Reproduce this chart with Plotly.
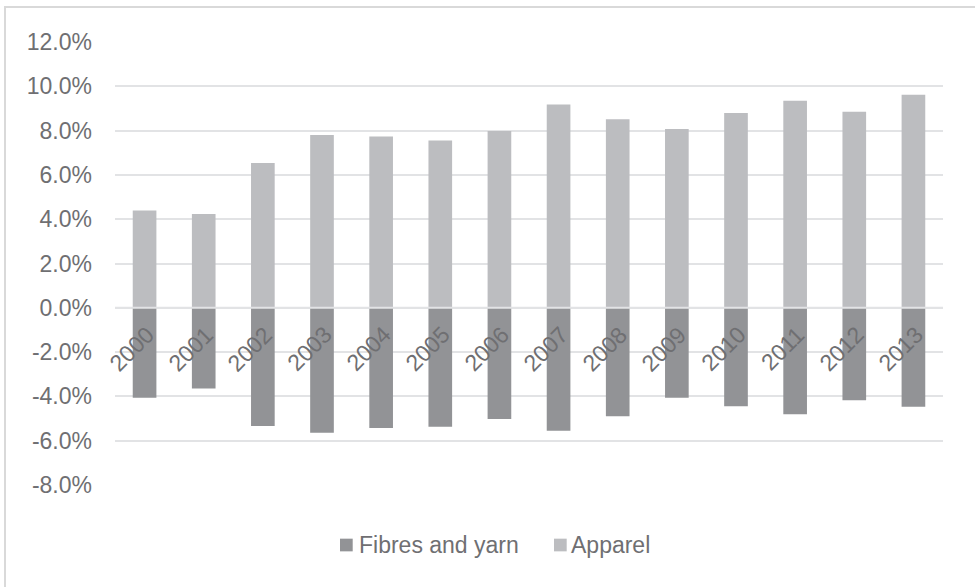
import plotly.graph_objects as go

years = [str(y) for y in range(2000, 2014)]
fibres_and_yarn = [-4.06, -3.64, -5.34, -5.64, -5.43, -5.37, -5.02, -5.55, -4.90, -4.06, -4.44, -4.81, -4.17, -4.47]
apparel = [4.39, 4.24, 6.54, 7.80, 7.73, 7.55, 7.98, 9.18, 8.51, 8.07, 8.80, 9.35, 8.85, 9.62]
y_tick_values = [-8, -6, -4, -2, 0, 2, 4, 6, 8, 10, 12]
y_tick_labels = ["-8.0%", "-6.0%", "-4.0%", "-2.0%", "0.0%", "2.0%", "4.0%", "6.0%", "8.0%", "10.0%", "12.0%"]
series_names = ["Fibres and yarn", "Apparel"]

FIBRE_COLOR = "#929396"
APPAREL_COLOR = "#bcbdc0"
TEXT_COLOR = "#6f6f72"
GRID_COLOR = "#e2e3e5"
FONT = "Liberation Sans, Arial, sans-serif"
FS = 23

fig = go.Figure()
fig.add_trace(go.Bar(x=years, y=fibres_and_yarn, name=series_names[0],
                     marker=dict(color=FIBRE_COLOR, line=dict(width=0))))
fig.add_trace(go.Bar(x=years, y=apparel, name=series_names[1],
                     marker=dict(color=APPAREL_COLOR, line=dict(width=0))))

# year labels placed on the zero line, rotated (x = category index)
for i, yr in enumerate(years):
    fig.add_annotation(x=i, y=0, xref="x", yref="y", text=yr, showarrow=False,
                       textangle=-45, xanchor="center", yanchor="middle",
                       xshift=-13, yshift=-41,
                       font=dict(family=FONT, size=FS, color=TEXT_COLOR))

# zero line drawn over bars, like Excel's horizontal axis
fig.add_shape(type="line", xref="paper", yref="y", x0=0, x1=1, y0=0, y1=0,
              line=dict(color=GRID_COLOR, width=2), layer="above")

# manual legend
L, R, T, B = 115, 943, 42, 485.3
W, H = R - L, B - T
def px(x):
    return (x - L) / W
def py(y):
    return (B - y) / H

legend_items = [(340, 358, FIBRE_COLOR, series_names[0]), (554, 570, APPAREL_COLOR, series_names[1])]
for sx, tx, col, label in legend_items:
    fig.add_shape(type="rect", xref="paper", yref="paper",
                  x0=px(sx), x1=px(sx + 12.7), y0=py(551.7), y1=py(539),
                  fillcolor=col, line=dict(width=0))
    fig.add_annotation(xref="paper", yref="paper", x=px(tx - 1), y=py(545.5),
                       xanchor="left", yanchor="middle", text=label, showarrow=False,
                       font=dict(family=FONT, size=FS, color=TEXT_COLOR))

# outer chart border (left & top visible)
fig.add_shape(type="rect", xref="paper", yref="paper",
              x0=px(5), x1=px(990), y0=py(7), y1=py(600),
              line=dict(color="#d9d9d9", width=2), fillcolor="rgba(0,0,0,0)", layer="below")

fig.update_layout(
    width=975, height=587,
    margin=dict(l=L, r=975 - R, t=T, b=587 - B),
    barmode="relative", bargap=0.6,
    plot_bgcolor="white", paper_bgcolor="white",
    showlegend=False,
    font=dict(family=FONT, size=FS, color=TEXT_COLOR),
    xaxis=dict(type="category", range=[-0.5, len(years) - 0.5], showticklabels=False,
               showgrid=False, zeroline=False, showline=False, ticks=""),
    yaxis=dict(range=[-8, 12], tickvals=y_tick_values, ticktext=y_tick_labels,
               showgrid=True, gridcolor=GRID_COLOR, gridwidth=2,
               zeroline=False, showline=False, ticks="", ticklabelstandoff=22,
               tickfont=dict(family=FONT, size=FS, color=TEXT_COLOR)),
)

fig.write_html("out.html")
